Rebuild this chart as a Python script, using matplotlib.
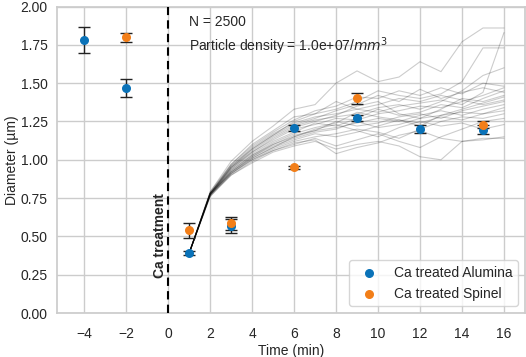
import matplotlib
matplotlib.use("Agg")
import matplotlib.pyplot as plt
import seaborn as sns
import numpy as np

# ---- data ----
alumina_t = [-4, -2, 1, 3, 6, 9, 12, 15]
alumina_d = [1.78, 1.47, 0.39, 0.57, 1.21, 1.27, 1.20, 1.195]
alumina_err = [0.085, 0.06, 0.012, 0.045, 0.02, 0.02, 0.025, 0.03]

spinel_t = [-2, 1, 3, 6, 9, 15]
spinel_d = [1.80, 0.54, 0.585, 0.95, 1.40, 1.23]
spinel_err = [0.03, 0.05, 0.04, 0.01, 0.035, 0.02]

sim_t = list(range(1, 17))
sim_lines = [
    [0.39, 0.79, 0.99, 1.12, 1.22, 1.33, 1.36, 1.50, 1.58, 1.51, 1.54, 1.64, 1.575, 1.77, 1.86, 1.86],
    [0.39, 0.78, 0.97, 1.10, 1.19, 1.28, 1.30, 1.33, 1.38, 1.45, 1.42, 1.40, 1.43, 1.51, 1.73, 1.73],
    [0.39, 0.78, 0.96, 1.08, 1.17, 1.24, 1.28, 1.30, 1.33, 1.31, 1.35, 1.37, 1.39, 1.36, 1.44, 1.83],
    [0.39, 0.77, 0.95, 1.06, 1.15, 1.22, 1.26, 1.28, 1.30, 1.34, 1.36, 1.33, 1.38, 1.45, 1.55, 1.60],
    [0.39, 0.78, 0.95, 1.05, 1.13, 1.20, 1.23, 1.27, 1.26, 1.30, 1.32, 1.35, 1.34, 1.38, 1.42, 1.47],
    [0.39, 0.77, 0.94, 1.04, 1.12, 1.18, 1.24, 1.22, 1.27, 1.33, 1.29, 1.31, 1.36, 1.34, 1.40, 1.45],
    [0.39, 0.78, 0.93, 1.03, 1.10, 1.16, 1.19, 1.25, 1.22, 1.24, 1.28, 1.30, 1.27, 1.32, 1.35, 1.38],
    [0.39, 0.77, 0.92, 1.02, 1.09, 1.14, 1.18, 1.20, 1.25, 1.21, 1.23, 1.27, 1.29, 1.31, 1.30, 1.34],
    [0.39, 0.78, 0.92, 1.01, 1.08, 1.13, 1.17, 1.15, 1.18, 1.22, 1.26, 1.24, 1.28, 1.26, 1.30, 1.32],
    [0.39, 0.76, 0.91, 1.00, 1.07, 1.12, 1.15, 1.17, 1.20, 1.18, 1.14, 1.20, 1.25, 1.28, 1.27, 1.30],
    [0.39, 0.77, 0.90, 0.99, 1.06, 1.10, 1.14, 1.09, 1.13, 1.17, 1.12, 1.08, 1.15, 1.20, 1.25, 1.27],
    [0.39, 0.76, 0.90, 0.98, 1.05, 1.09, 1.12, 1.07, 1.10, 1.12, 1.09, 1.02, 1.00, 1.12, 1.13, 1.15],
    [0.39, 0.78, 0.91, 1.00, 1.06, 1.11, 1.13, 1.04, 1.08, 1.11, 1.16, 1.19, 1.14, 1.12, 1.14, 1.14],
    [0.39, 0.77, 0.93, 1.03, 1.11, 1.17, 1.21, 1.24, 1.31, 1.28, 1.26, 1.22, 1.29, 1.33, 1.37, 1.41],
    [0.39, 0.78, 0.94, 1.05, 1.14, 1.21, 1.25, 1.29, 1.35, 1.38, 1.30, 1.27, 1.33, 1.40, 1.38, 1.42],
    [0.39, 0.79, 0.97, 1.09, 1.18, 1.26, 1.32, 1.35, 1.41, 1.40, 1.45, 1.42, 1.47, 1.43, 1.50, 1.48],
    [0.39, 0.78, 0.96, 1.07, 1.16, 1.23, 1.27, 1.32, 1.36, 1.42, 1.38, 1.46, 1.40, 1.44, 1.47, 1.44],
    [0.39, 0.77, 0.91, 1.01, 1.08, 1.15, 1.20, 1.23, 1.19, 1.15, 1.21, 1.25, 1.22, 1.24, 1.20, 1.23],
    [0.39, 0.78, 0.95, 1.07, 1.16, 1.25, 1.30, 1.38, 1.33, 1.36, 1.40, 1.38, 1.42, 1.39, 1.36, 1.39],
    [0.39, 0.77, 0.92, 1.02, 1.10, 1.15, 1.19, 1.21, 1.24, 1.27, 1.25, 1.29, 1.32, 1.29, 1.33, 1.36],
]

x_ticks = [-4, -2, 0, 2, 4, 6, 8, 10, 12, 14, 16]
y_ticks = [0.00, 0.25, 0.50, 0.75, 1.00, 1.25, 1.50, 1.75, 2.00]

sns.set_theme(style="whitegrid")
plt.rcParams['font.family'] = ['Liberation Sans', 'DejaVu Sans']

blue = '#0a72b8'
orange = '#f27e18'

fig = plt.figure(figsize=(5.26, 3.57), dpi=100)
ax = fig.add_axes([0.109, 0.1232, 0.889, 0.8585])

for line in sim_lines:
    ax.plot(sim_t, line, color='black', alpha=0.2, lw=0.8, zorder=2)

ax.axvline(0, color='black', linestyle=(0, (4, 2.5)), lw=1.5, zorder=3)
ax.text(-0.05, 0.23, 'Ca treatment', rotation=90, ha='right', va='bottom',
        fontsize=10, fontweight='bold', zorder=4)

ax.errorbar(alumina_t, alumina_d, yerr=alumina_err, fmt='none', ecolor='#222222',
            elinewidth=1, capsize=4, capthick=1, zorder=4)
ax.errorbar(spinel_t, spinel_d, yerr=spinel_err, fmt='none', ecolor='#222222',
            elinewidth=1, capsize=4, capthick=1, zorder=4)
ax.scatter(alumina_t, alumina_d, color=blue, s=30, zorder=5, label='Ca treated Alumina')
ax.scatter(spinel_t, spinel_d, color=orange, s=30, zorder=5, label='Ca treated Spinel')

ax.text(1.0, 1.945, 'N = 2500\nParticle density = 1.0e+07/$mm^3$', ha='left', va='top',
        fontsize=10, linespacing=1.4)

ax.set_xlim(-5.28, 17.0)
ax.set_ylim(0, 2.0)
ax.set_xticks(x_ticks)
ax.set_yticks(y_ticks)
ax.set_yticklabels([f'{v:.2f}' for v in y_ticks])
ax.tick_params(axis='x', labelsize=10, pad=4)
ax.tick_params(axis='y', labelsize=10, length=0, pad=7)
ax.set_xlabel('Time (min)', fontsize=10, labelpad=2)
ax.set_ylabel('Diameter (µm)', fontsize=10, labelpad=1)

ax.legend(loc='lower right', fontsize=10, frameon=True)

fig.savefig('out.png', dpi=100)
